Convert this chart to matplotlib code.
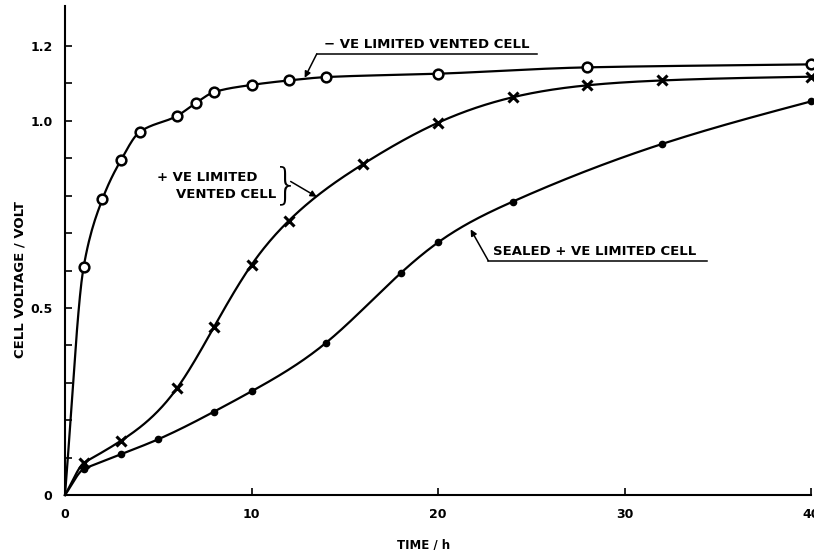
import numpy as np
import matplotlib
matplotlib.use("Agg")
import matplotlib.pyplot as plt

# values (time in h, voltage in V)
t_neg = [0, 1, 2, 3, 4, 6, 7, 8, 10, 12, 14, 20, 28, 40]
v_neg = [0, 0.61, 0.79, 0.895, 0.97, 1.013, 1.047, 1.077, 1.096, 1.108, 1.117, 1.126, 1.143, 1.151]

t_pos = [0, 1, 3, 6, 8, 10, 12, 16, 20, 24, 28, 32, 40]
v_pos = [0, 0.086, 0.145, 0.285, 0.45, 0.615, 0.733, 0.885, 0.995, 1.063, 1.095, 1.108, 1.118]

t_seal = [0, 1, 3, 5, 8, 10, 14, 18, 20, 24, 32, 40]
v_seal = [0, 0.07, 0.109, 0.149, 0.223, 0.277, 0.407, 0.593, 0.675, 0.784, 0.938, 1.052]

x_ticks = [0, 10, 20, 30, 40]
y_labels = {0: "0", 5: "0.5", 10: "1.0", 12: "1.2"}


def pchip(x, y, xs):
    # monotone cubic
    x = np.asarray(x, float)
    y = np.asarray(y, float)
    h = np.diff(x)
    d = np.diff(y) / h
    m = np.zeros(len(x))
    m[0] = d[0]
    m[-1] = d[-1]
    for k in range(1, len(x) - 1):
        if d[k - 1] * d[k] > 0:
            w1 = 2 * h[k] + h[k - 1]
            w2 = h[k] + 2 * h[k - 1]
            m[k] = (w1 + w2) / (w1 / d[k - 1] + w2 / d[k])
    i = np.clip(np.searchsorted(x, xs) - 1, 0, len(x) - 2)
    s = (xs - x[i]) / h[i]
    return ((2 * s**3 - 3 * s**2 + 1) * y[i] + (s**3 - 2 * s**2 + s) * h[i] * m[i]
            + (-2 * s**3 + 3 * s**2) * y[i + 1] + (s**3 - s**2) * h[i] * m[i + 1])


def spline(x, y, xs):
    # natural cubic spline
    x = np.asarray(x, float)
    y = np.asarray(y, float)
    N = len(x)
    h = np.diff(x)
    A = np.zeros((N, N))
    r = np.zeros(N)
    A[0, 0] = A[-1, -1] = 1
    for k in range(1, N - 1):
        A[k, k - 1] = h[k - 1]
        A[k, k] = 2 * (h[k - 1] + h[k])
        A[k, k + 1] = h[k]
        r[k] = 6 * ((y[k + 1] - y[k]) / h[k] - (y[k] - y[k - 1]) / h[k - 1])
    M = np.linalg.solve(A, r)
    i = np.clip(np.searchsorted(x, xs) - 1, 0, N - 2)
    a = x[i + 1] - xs
    b = xs - x[i]
    return (M[i] * a**3 / (6 * h[i]) + M[i + 1] * b**3 / (6 * h[i])
            + (y[i] / h[i] - M[i] * h[i] / 6) * a + (y[i + 1] / h[i] - M[i + 1] * h[i] / 6) * b)


def curve(t, v, n=500):
    # monotone piece from the origin, smooth spline through the rest
    xs = np.linspace(t[0], t[-1], n)
    ys = np.where(xs < t[1], pchip(t, v, xs), spline(t[1:], v[1:], xs))
    return xs, ys


plt.rcParams['font.family'] = ['DejaVu Sans']
fig = plt.figure(figsize=(8.14, 5.5), dpi=100)
ax = fig.add_axes([65 / 814, 55 / 550, 746 / 814, 489 / 550])

lw = 1.6
xs = np.linspace(0, 40, 500)
ax.plot(xs, pchip(t_neg, v_neg, xs), color='black', lw=lw, clip_on=False, zorder=2)
for t, v in [(t_pos, v_pos), (t_seal, v_seal)]:
    cx, cy = curve(t, v)
    ax.plot(cx, cy, color='black', lw=lw, clip_on=False, zorder=2)

ax.plot(t_neg[1:], v_neg[1:], 'o', ms=7, mfc='white', mec='black', mew=1.8,
        clip_on=False, zorder=3)
ax.plot(t_pos[1:], v_pos[1:], 'x', ms=7, mec='black', mew=2.2,
        clip_on=False, zorder=3)
ax.plot(t_seal[1:], v_seal[1:], 'o', ms=4.5, color='black',
        clip_on=False, zorder=3)

ax.set_xlim(0, 40)
ax.set_ylim(0, 1.307)

for side in ['top', 'right']:
    ax.spines[side].set_visible(False)
for side in ['left', 'bottom']:
    ax.spines[side].set_linewidth(1.5)

ax.set_xticks(x_ticks)
ax.set_xticklabels([str(x) for x in x_ticks], fontweight='bold', fontsize=9)
yt = np.arange(0, 13) / 10
ax.set_yticks(yt)
ax.set_yticklabels([y_labels.get(k, "") for k in range(13)], fontweight='bold', fontsize=9)
ax.tick_params(direction='in', length=5, width=1.2, pad=9)

ax.set_xlabel("TIME / h", fontweight='bold', fontsize=8.5)
ax.xaxis.set_label_coords(0.48, -0.088)
ax.set_ylabel("CELL VOLTAGE / VOLT", fontweight='bold', fontsize=9.5)
ax.yaxis.set_label_coords(-0.052, 0.44)

txt = dict(fontsize=9.5, fontweight='bold', color='black')
arrow = dict(arrowstyle='-|>', lw=1.1, color='black', mutation_scale=9,
             shrinkA=0, shrinkB=0)

# - VE limited vented cell
ax.text(19.4, 1.203, "\u2212 VE LIMITED VENTED CELL", ha='center', va='center', **txt)
ax.plot([13.5, 25.3], [1.179, 1.179], color='black', lw=1.1)
ax.annotate("", xy=(12.85, 1.115), xytext=(13.5, 1.179), arrowprops=arrow)

# + VE limited vented cell
ax.text(4.95, 0.849, "+ VE LIMITED", ha='left', va='center', **txt)
ax.text(5.95, 0.802, "VENTED CELL", ha='left', va='center', **txt)
ax.text(11.85, 0.826, "}", ha='center', va='center', fontsize=30,
        fontweight='ultralight', color='black')
ax.annotate("", xy=(13.5, 0.797), xytext=(12.1, 0.838), arrowprops=arrow)

# sealed + VE limited cell
ax.text(22.95, 0.652, "SEALED + VE LIMITED CELL", ha='left', va='center', **txt)
ax.plot([22.7, 34.4], [0.626, 0.626], color='black', lw=1.1)
ax.annotate("", xy=(21.75, 0.71), xytext=(22.7, 0.626), arrowprops=arrow)

fig.savefig("out.png", dpi=100)
